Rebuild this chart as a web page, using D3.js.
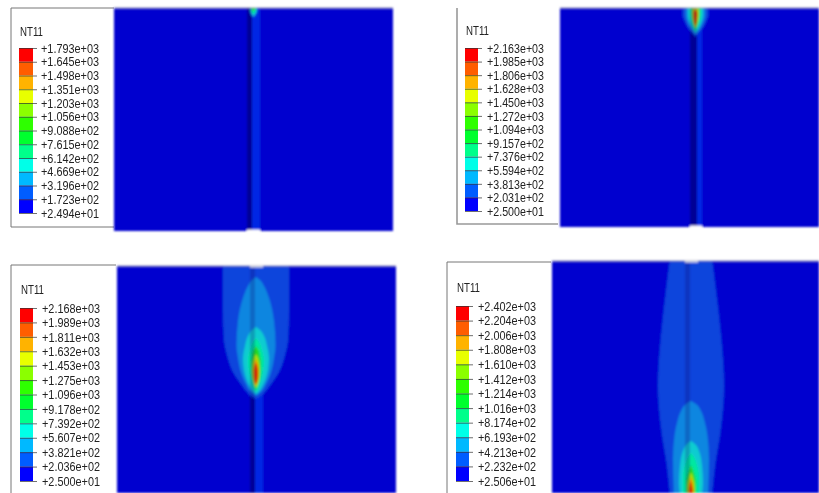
<!DOCTYPE html>
<html>
<head>
<meta charset="utf-8">
<script src="https://cdn.jsdelivr.net/npm/d3@7"></script>
<style>
html, body { margin: 0; padding: 0; background: #fff; }
svg { display: block; }
.tick text { font-family: "Liberation Sans", sans-serif; font-size: 13px; fill: #222; }
.title { font-family: "Liberation Sans", sans-serif; font-size: 13px; fill: #222; }
</style>
</head>
<body>
<div id="chart"></div>
<script>
// tick labels of each contour legend, top to bottom
var labelsA = ["+1.793e+03","+1.645e+03","+1.498e+03","+1.351e+03","+1.203e+03","+1.056e+03","+9.088e+02","+7.615e+02","+6.142e+02","+4.669e+02","+3.196e+02","+1.723e+02","+2.494e+01"];
var labelsB = ["+2.163e+03","+1.985e+03","+1.806e+03","+1.628e+03","+1.450e+03","+1.272e+03","+1.094e+03","+9.157e+02","+7.376e+02","+5.594e+02","+3.813e+02","+2.031e+02","+2.500e+01"];
var labelsC = ["+2.168e+03","+1.989e+03","+1.811e+03","+1.632e+03","+1.453e+03","+1.275e+03","+1.096e+03","+9.178e+02","+7.392e+02","+5.607e+02","+3.821e+02","+2.036e+02","+2.500e+01"];
var labelsD = ["+2.402e+03","+2.204e+03","+2.006e+03","+1.808e+03","+1.610e+03","+1.412e+03","+1.214e+03","+1.016e+03","+8.174e+02","+6.193e+02","+4.213e+02","+2.232e+02","+2.506e+01"];

// legend colours, hot to cold
var bandColors = ["#ff0000","#ff5d00","#ffb300","#e8ff00","#8bff00","#2eff00","#00ff2e","#00ff8b","#00ffe8","#00b9ff","#005dff","#0000ff"];
// same ramp as it looks on the shaded model, cold to hot
var plumeColors = ["#0a44dc","#0e86e0","#10ccd0","#00e8a0","#20d828","#b0e000","#f09000","#d82000"];

// isotherms: [depth along the weld, half width] per level, cold to hot
var plumeA = [
	[[-2,4],[3,4],[7,3],[10,0]],
	[[-2,3.5],[3,3.5],[6,2.5],[9,0]],
	[[-2,3],[3,3],[5,2],[8,0]],
	[[-2,2.5],[2,2.5],[4,1.5],[6,0]],
	[[-2,1.5],[1,1.5],[3,0]]
];
var plumeB = [
	[[-2,13],[6,13],[14,10.5],[22,6],[29,0]],
	[[-2,10],[6,10],[14,8],[21,4.5],[27,0]],
	[[-2,7.5],[6,7.5],[14,6],[20,3.2],[25,0]],
	[[-2,5.5],[6,5.5],[13,4.4],[19,2.2],[24,0]],
	[[-2,4],[6,4],[13,3.2],[18,1.6],[22,0]],
	[[-2,3],[6,3],[12,2.4],[17,1.2],[20,0]],
	[[1,0],[4,2.2],[10,2],[15,1],[19,0]],
	[[2,0],[5,1.6],[11,1.5],[15,0.8],[18,0]]
];
var plumeC = [
	[[-2,33],[45,33],[74,32],[89,29],[106,23],[118,15],[126,9],[131,4],[133,0]],
	[[11,0],[14,4],[20,8],[32,13],[55,18],[79,19.5],[92,18],[106,15],[118,10],[126,5],[130,0]],
	[[61,0],[64,4],[70,8],[80,11],[93,13],[104,12],[112,10],[120,6.5],[126,2.5],[128,0]],
	[[72,0],[76,3],[84,6],[94,8],[106,7],[116,4.5],[123,2],[126,0]],
	[[80,0],[84,2.5],[90,4],[98,5],[110,4.5],[118,2.5],[124,0]],
	[[88,0],[94,2.5],[104,3.5],[114,2.8],[122,0]],
	[[93,0],[99,2],[106,2.8],[114,2],[120,0]],
	[[97,0],[103,1.6],[110,1.9],[116,1],[118,0]]
];
var plumeD = [
	[[-2,21],[30,25],[75,30],[125,33],[170,29.5],[205,24],[234,21]],
	[[140,0],[143,5],[150,10],[160,13.5],[175,16.5],[198,18],[234,17]],
	[[180,0],[183,4],[190,8],[205,11],[222,12],[234,11]],
	[[192,0],[196,3],[204,6],[216,8],[234,8]],
	[[204,0],[212,3],[222,5],[234,5]],
	[[211,0],[217,2],[226,3.5],[234,3.2]],
	[[216,0],[222,1.6],[230,2.6],[238,1.6],[243,0]],
	[[220,0],[225,1],[231,1.8],[238,1],[241,0]]
];

// page layout of the four frames
var panels = [
	{ labels: labelsA, plume: plumeA, box: [11,8,114,227], top: true, swatch: [19,33], legend: [48,213], textX: 41, textW: 58, titleY: 36, plot: [114,393,8,231], c: 253.5, weld: [247,252,260], notch: "bottom" },
	{ labels: labelsB, plume: plumeB, box: [457,8,558,224], top: false, swatch: [465,478], legend: [48,211], textX: 487, textW: 57, titleY: 35, plot: [560,819,8,227], c: 695.5, weld: [690,697,702], notch: "bottom" },
	{ labels: labelsC, plume: plumeC, box: [11,265,116,499], top: true, swatch: [20,33], legend: [308,481], textX: 42, textW: 58, titleY: 294, plot: [117,396,266,493], c: 256, weld: [250,255,263], notch: "top" },
	{ labels: labelsD, plume: plumeD, box: [447,262,551,499], top: true, swatch: [456,469], legend: [306,481], textX: 478, textW: 58, titleY: 292, plot: [552,819,261,493], c: 691, weld: [685,690,698], notch: "top" }
];

var svg = d3.select("#chart").append("svg").attr("width", 819).attr("height", 493);

var defs = svg.append("defs");
defs.append("filter").attr("id", "soft")
	.attr("x", "-5%").attr("y", "-5%").attr("width", "110%").attr("height", "110%")
	.append("feGaussianBlur").attr("stdDeviation", 0.8);
defs.append("filter").attr("id", "softText")
	.attr("x", "-5%").attr("y", "-5%").attr("width", "110%").attr("height", "110%")
	.append("feGaussianBlur").attr("stdDeviation", 0.35);

panels.forEach(function(p, i) {
	drawLegend(p);
	drawPlot(p, i);
});

function drawLegend(p) {
	var g = svg.append("g").attr("filter", "url(#softText)");
	var box = p.box;

	g.append("path")
		.attr("d", (p.top ? "M" + box[2] + "," + box[1] + "H" + box[0] : "M" + box[0] + "," + box[1]) + "V" + box[3] + "H" + box[2])
		.attr("fill", "none").attr("stroke", p.top ? "#777" : "#999").attr("stroke-width", p.top ? 1 : 1.6);

	g.append("text").attr("class", "title")
		.attr("x", p.swatch[0] + 1).attr("y", p.titleY)
		.attr("textLength", 23).attr("lengthAdjust", "spacingAndGlyphs")
		.text("NT11");

	var y = d3.scalePoint().domain(p.labels).range(p.legend);

	g.selectAll("rect.band").data(bandColors).enter().append("rect")
		.attr("class", "band")
		.attr("x", p.swatch[0])
		.attr("width", p.swatch[1] - p.swatch[0])
		.attr("y", function(d, i) { return y(p.labels[i]); })
		.attr("height", y.step())
		.attr("fill", function(d) { return d; });

	var size = p.swatch[1] - p.swatch[0] + 4;
	var axis = d3.axisRight(y).tickSize(size).tickPadding(p.textX - p.swatch[0] - size);
	var ag = g.append("g")
		.attr("transform", "translate(" + p.swatch[0] + ",0)")
		.call(axis);
	ag.select(".domain").remove();
	ag.selectAll("line").attr("stroke", "#333").attr("stroke-opacity", 0.7);
	ag.selectAll("text")
		.attr("textLength", p.textW)
		.attr("lengthAdjust", "spacingAndGlyphs");
}

function drawPlot(p, idx) {
	var pl = p.plot;
	var x = d3.scaleLinear().domain([pl[0] - p.c, pl[1] - p.c]).range([pl[0], pl[1]]);
	var y = d3.scaleLinear().domain([0, pl[3] - pl[2]]).range([pl[2], pl[3]]);

	defs.append("clipPath").attr("id", "clip" + idx).append("rect")
		.attr("x", pl[0]).attr("y", pl[2]).attr("width", pl[1] - pl[0]).attr("height", pl[3] - pl[2]);

	var outer = svg.append("g").attr("filter", "url(#soft)");
	var g = outer.append("g").attr("clip-path", "url(#clip" + idx + ")");

	g.append("rect")
		.attr("x", pl[0]).attr("y", pl[2]).attr("width", pl[1] - pl[0]).attr("height", pl[3] - pl[2])
		.attr("fill", "#0000cf");

	// weld seam, dark side and light side
	var w = p.weld;
	g.append("rect").attr("x", w[0]).attr("y", pl[2]).attr("width", w[1] - w[0]).attr("height", pl[3] - pl[2])
		.attr("fill", "#0000a4");
	g.append("rect").attr("x", w[1]).attr("y", pl[2]).attr("width", w[2] - w[1]).attr("height", pl[3] - pl[2])
		.attr("fill", "#0026e4");

	var area = d3.area()
		.y(function(d) { return y(d[0]); })
		.x0(function(d) { return x(-d[1]); })
		.x1(function(d) { return x(d[1]); })
		.curve(d3.curveMonotoneY);

	g.selectAll("path.iso").data(p.plume).enter().append("path")
		.attr("class", "iso")
		.attr("d", area)
		.attr("fill", function(d, i) { return plumeColors[i]; });

	// seam shading stays visible through the plume
	g.append("rect").attr("x", w[0]).attr("y", pl[2]).attr("width", w[1] - w[0]).attr("height", pl[3] - pl[2])
		.attr("fill", "#000060").attr("opacity", 0.22);

	// bevel notch of the seam at the plate edge
	var notchY = p.notch == "top" ? pl[2] : pl[3] - 1.5;
	g.append("rect").attr("x", w[0]).attr("y", notchY).attr("width", w[2] - w[0]).attr("height", 1.5)
		.attr("fill", "#fff");

	outer.append("line")
		.attr("x1", pl[0]).attr("x2", pl[1]).attr("y1", pl[2]).attr("y2", pl[2])
		.attr("stroke", "#8a8aa8").attr("stroke-width", 0.8);
}
</script>
</body>
</html>
